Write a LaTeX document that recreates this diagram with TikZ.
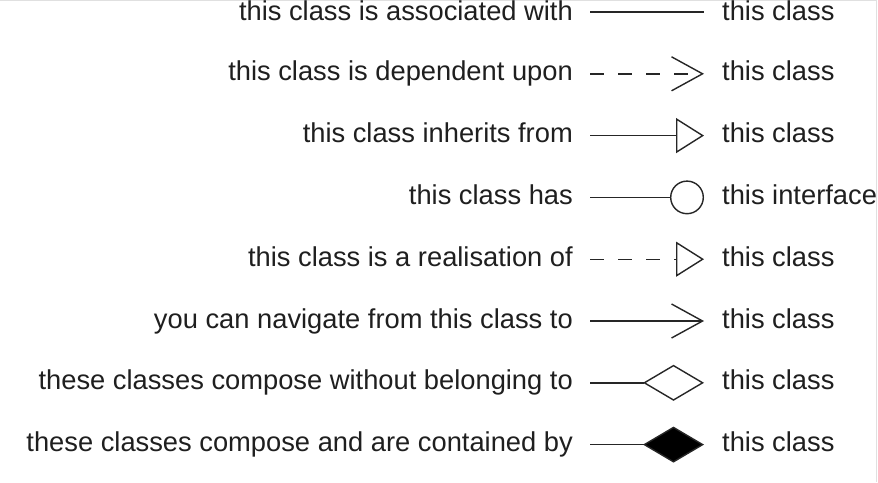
\documentclass[tikz,border=0pt]{standalone}
\usepackage{fontspec}
\setmainfont{Liberation Sans}
\usetikzlibrary{arrows.meta}
\begin{document}
\begin{tikzpicture}[x=1pt,y=-1pt,
  lab/.style={font=\fontsize{27.3}{30}\selectfont, text=black!88, inner sep=0pt},
  leftlab/.style={lab, anchor=base east},
  rightlab/.style={lab, anchor=base west},
  conn/.style={draw=black!85, line width=1.4pt},
  dsh/.style={conn, dash pattern=on 14pt off 14pt},
  vtip/.style={-{Straight Barb[length=31pt,width=34pt,line width=1.4pt]}},
  ttip/.style={-{Triangle[open,length=28pt,width=35pt,line width=1.4pt,fill=white]}},
  ctip/.style={-{Circle[open,length=34pt,line width=1.4pt,fill=white]}},
  dtip/.style={-{Diamond[open,length=61pt,width=36pt,line width=1.4pt,fill=white]}},
  ftip/.style={-{Diamond[length=61pt,width=36pt,line width=1.4pt,fill=black]}}
]
\useasboundingbox (0,0) rectangle (878,482);
\fill[white] (0,0) rectangle (878,482);
\draw[black!12, line width=1pt] (0,0.5) -- (876.5,0.5) -- (876.5,482);

% rows
\foreach \i/\y in {1/12,2/73.8,3/135.6,4/197.4,5/259.2,6/321,7/382.8,8/444.6}{
  \coordinate (s\i) at (590,\y);
  \coordinate (e\i) at (704,\y);
}

\node[leftlab] (l1) at (573,20.5) {this class is associated with};
\node[leftlab] (l2) at (573,80.8) {this class is dependent upon};
\node[leftlab] (l3) at (573,142.6) {this class inherits from};
\node[leftlab] (l4) at (573,204.4) {this class has};
\node[leftlab] (l5) at (573,266.2) {this class is a realisation of};
\node[leftlab] (l6) at (573,328) {you can navigate from this class to};
\node[leftlab] (l7) at (573,389.8) {these classes compose without belonging to};
\node[leftlab] (l8) at (573,451.6) {these classes compose and are contained by};

\node[rightlab] (r1) at (722,20.5) {this class};
\node[rightlab] (r2) at (722,80.8) {this class};
\node[rightlab] (r3) at (722,142.6) {this class};
\node[rightlab] (r4) at (722,204.4) {this interface};
\node[rightlab] (r5) at (722,266.2) {this class};
\node[rightlab] (r6) at (722,328) {this class};
\node[rightlab] (r7) at (722,389.8) {this class};
\node[rightlab] (r8) at (722,451.6) {this class};

\draw[conn] (s1) -- (e1);
\draw[dsh, vtip] (s2) -- (e2);
\draw[conn, ttip] (s3) -- (e3);
\draw[conn, ctip] (s4) -- (e4);
\draw[dsh, ttip] (s5) -- (e5);
\draw[conn, vtip] (s6) -- (e6);
\draw[conn, dtip] (s7) -- (e7);
\draw[conn, ftip] (s8) -- (e8);
\end{tikzpicture}
\end{document}
